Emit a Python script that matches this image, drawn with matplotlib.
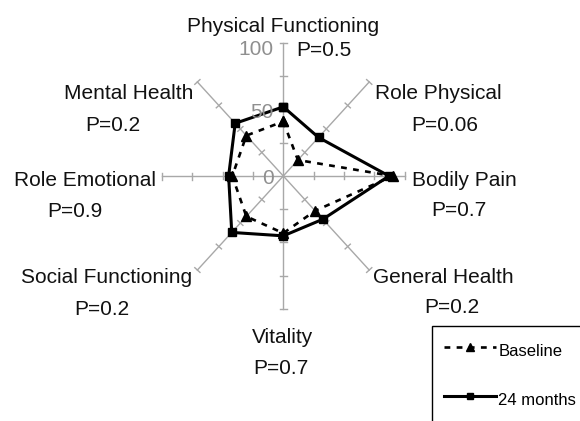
import numpy as np
import matplotlib.pyplot as plt

plt.rcParams['font.family'] = ['Liberation Sans', 'DejaVu Sans']

# SF-36 domains, clockwise from the top
categories = ["Physical Functioning", "Role Physical", "Bodily Pain",
              "General Health", "Vitality", "Social Functioning",
              "Role Emotional", "Mental Health"]
p_values = ["P=0.5", "P=0.06", "P=0.7", "P=0.2",
            "P=0.7", "P=0.2", "P=0.9", "P=0.2"]
baseline = [41, 17, 90, 37, 43, 43, 42, 43]
months24 = [52, 41, 87, 46, 45, 60, 45, 56]
scale_labels = [0, 50, 100]
axis_ticks = [25, 50, 75, 100]

W, H = 580, 421
cx, cy = 283.3, 176      # chart centre, pixels
kx, ky = 1.215, 1.33     # pixels per score unit (Excel stretched it a bit)

fig = plt.figure(figsize=(W / 100, H / 100), dpi=100)
ax = fig.add_axes([0, 0, 1, 1])
ax.set_xlim(-cx / kx, (W - cx) / kx)
ax.set_ylim((cy - H) / ky, cy / ky)
ax.axis('off')


def fpos(x, y):
    # pixel position -> figure fraction
    return x / W, 1 - y / H


ang = np.arange(len(categories)) * np.pi / 4
sx, sy = np.sin(ang), np.cos(ang)

## radial axes with tick marks ##
grid = '#a8a8a8'
for s, c in zip(sx, sy):
    ax.plot([0, 100 * s], [0, 100 * c], color=grid, lw=1, zorder=1)
    dx, dy = s * kx, c * ky
    n = np.hypot(dx, dy)
    px, py = -dy / n * 3.5, dx / n * 3.5
    for t in axis_ticks:
        ax.plot([t * s - px / kx, t * s + px / kx],
                [t * c - py / ky, t * c + py / ky],
                color=grid, lw=1, zorder=1)

## scale numbers on the vertical axis ##
for v, base in zip(scale_labels, [184, 118, 55]):
    fig.text(*fpos(274, base), str(v), ha='right', va='baseline',
             fontsize=15, color='#8f8f8f', zorder=2)

## series ##
bx = np.append(np.array(baseline) * sx, baseline[0] * sx[0])
by = np.append(np.array(baseline) * sy, baseline[0] * sy[0])
mx = np.append(np.array(months24) * sx, months24[0] * sx[0])
my = np.append(np.array(months24) * sy, months24[0] * sy[0])

ax.plot(bx, by, color='black', lw=1.9, ls=(0, (2.2, 2.4)),
        marker='^', ms=7, label='Baseline', zorder=3)
ax.plot(mx, my, color='black', lw=2.2, marker='s', ms=6,
        label='24 months', zorder=4)

## domain labels and p-values ##
name_pos = [(283.5, 32), (438, 99), (464.5, 186), (443.5, 283),
            (283, 343), (107, 283), (85, 186), (129, 99)]
p_pos = [(296, 56), (445, 131), (459, 216), (452, 313),
         (281, 374), (102, 315), (75, 217), (113, 131)]
for i, name in enumerate(categories):
    fig.text(*fpos(*name_pos[i]), name, ha='center', va='baseline',
             fontsize=15, color='#111111')
    if i == 0:
        fig.text(*fpos(*p_pos[i]), p_values[i], ha='left', va='baseline',
                 fontsize=15, color='#111111')
    else:
        fig.text(*fpos(*p_pos[i]), p_values[i], ha='center', va='baseline',
                 fontsize=15, color='#111111')

## legend ##
leg = ax.legend(loc='upper left', bbox_to_anchor=fpos(432, 326),
                bbox_transform=fig.transFigure, borderaxespad=0,
                fontsize=12, handlelength=3.1, handletextpad=0.15,
                handleheight=1.9, labelspacing=1.46, borderpad=0.74,
                fancybox=False, framealpha=1, edgecolor='black')
leg.get_frame().set_linewidth(1)
leg.legend_handles[0].set_markersize(6)
leg.legend_handles[1].set_markersize(5)

plt.savefig("out.png", dpi=100)
